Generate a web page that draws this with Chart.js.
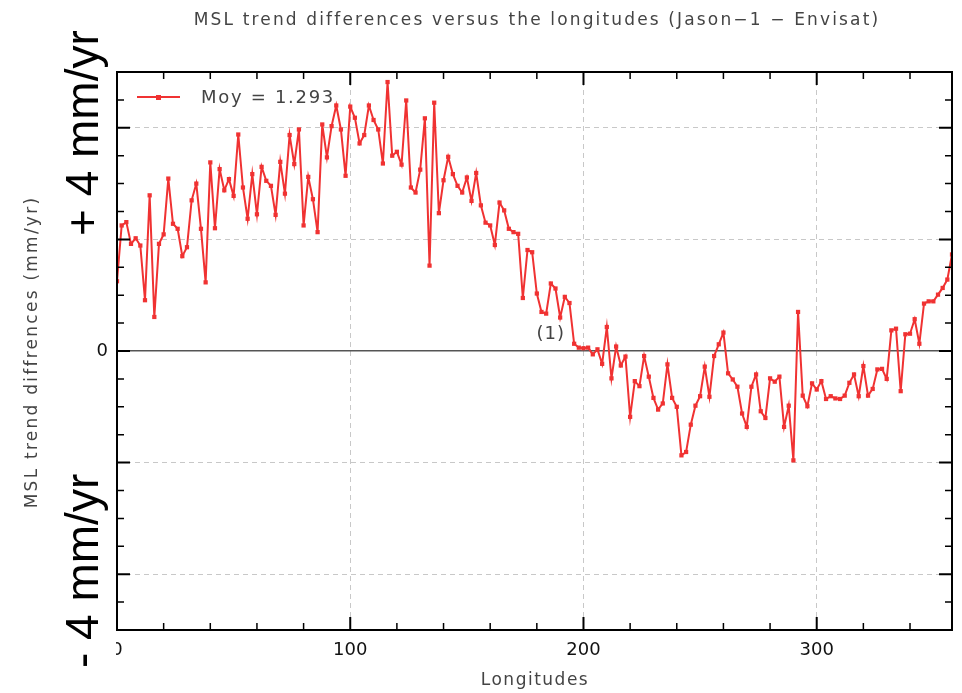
<!DOCTYPE html>
<html>
<head>
<meta charset="utf-8">
<script src="https://cdn.jsdelivr.net/npm/chart.js@4.4.1/dist/chart.umd.min.js"></script>
<style>
html,body{margin:0;padding:0;background:#fff;}
#wrap{width:962px;height:693px;}
</style>
</head>
<body>
<div id="wrap"><canvas id="myChart" width="962" height="693"></canvas></div>
<script>
// MSL trend differences Jason-1 - Envisat (mm/yr), every 2 degrees of longitude from 0 to 358
var lonStep = 2;
var mslDiff = [
	1.25, 2.25, 2.31, 1.92, 2.02, 1.89, 0.91, 2.79, 0.61, 1.92,
	2.09, 3.09, 2.28, 2.19, 1.70, 1.86, 2.70, 3.00, 2.19, 1.23,
	3.38, 2.20, 3.26, 2.88, 3.08, 2.78, 3.88, 2.93, 2.37, 3.17,
	2.45, 3.30, 3.05, 2.96, 2.44, 3.39, 2.82, 3.87, 3.35, 3.97,
	2.25, 3.12, 2.72, 2.13, 4.06, 3.47, 4.03, 4.40, 3.97, 3.14,
	4.38, 4.18, 3.72, 3.87, 4.40, 4.14, 3.97, 3.36, 4.82, 3.50,
	3.57, 3.34, 4.49, 2.93, 2.84, 3.25, 4.17, 1.53, 4.45, 2.47,
	3.06, 3.48, 3.17, 2.96, 2.84, 3.11, 2.69, 3.19, 2.61, 2.30,
	2.25, 1.90, 2.66, 2.52, 2.19, 2.13, 2.10, 0.95, 1.81, 1.77,
	1.03, 0.70, 0.67, 1.21, 1.12, 0.60, 0.97, 0.86, 0.13, 0.06,
	0.05, 0.06, -0.06, 0.03, -0.23, 0.43, -0.49, 0.08, -0.26, -0.10,
	-1.18, -0.54, -0.63, -0.09, -0.46, -0.84, -1.05, -0.94, -0.24, -0.84,
	-1.00, -1.87, -1.81, -1.32, -0.98, -0.81, -0.28, -0.82, -0.09, 0.12,
	0.33, -0.40, -0.51, -0.64, -1.12, -1.36, -0.64, -0.42, -1.08, -1.20,
	-0.49, -0.55, -0.46, -1.36, -0.98, -1.96, 0.70, -0.80, -0.99, -0.58,
	-0.69, -0.54, -0.86, -0.81, -0.85, -0.86, -0.80, -0.57, -0.42, -0.81,
	-0.27, -0.80, -0.68, -0.33, -0.32, -0.50, 0.37, 0.40, -0.72, 0.30,
	0.31, 0.57, 0.13, 0.85, 0.89, 0.89, 1.01, 1.13, 1.28, 1.73
];
var longitudes = [];
for (var i = 0; i < mslDiff.length; i++) {
	longitudes.push(i * lonStep);
}

var xMajorTicks = [100, 200, 300];
var yMajorTicks = [-4, -2, 2, 4];
var meanLabel = "Moy = 1.293";
var titleText = "MSL trend differences versus the longitudes (Jason\u22121 \u2212 Envisat)";
var yTitle = "MSL trend diffrences (mm/yr)";
var xTitle = "Longitudes";
var bigTop = "+ 4 mm/yr";
var bigBottom = "- 4 mm/yr";
var noteText = "(1)";
var noteLon = 186, noteVal = 0.3;

var red = "rgb(240,50,50)";
var txtFont = "'DejaVu Sans', sans-serif";

var points = [];
for (var i = 0; i < mslDiff.length; i++) {
	points.push({x: longitudes[i], y: mslDiff[i]});
}

var decor = {
	id: "decor",
	afterDraw: function(chart) {
		var ctx = chart.ctx;
		var area = chart.chartArea;
		var xs = chart.scales.x, ys = chart.scales.y;
		ctx.save();

		// white box hiding the tick labels under the big overlay text
		ctx.fillStyle = "#fff";
		ctx.fillRect(55, 458, 61, 235);

		// big rotated labels
		ctx.fillStyle = "#000";
		ctx.font = "46px 'Liberation Sans', Arial, sans-serif";
		ctx.textAlign = "left";
		ctx.textBaseline = "alphabetic";
		ctx.save();
		ctx.translate(98, 236);
		ctx.rotate(-Math.PI / 2);
		ctx.fillText(bigTop, 0, 0);
		ctx.restore();
		ctx.save();
		ctx.translate(98, 668);
		ctx.rotate(-Math.PI / 2);
		ctx.fillText(bigBottom, 0, 0);
		ctx.restore();

		// frame
		ctx.strokeStyle = "#000";
		ctx.lineWidth = 2;
		ctx.strokeRect(area.left, area.top, area.right - area.left, area.bottom - area.top);

		// inward ticks
		var v, p, len;
		for (v = 20; v < xs.max; v += 20) {
			p = xs.getPixelForValue(v);
			len = (v % 100 === 0) ? 13 : 7;
			ctx.lineWidth = (v % 100 === 0) ? 2 : 1.5;
			ctx.beginPath();
			ctx.moveTo(p, area.bottom); ctx.lineTo(p, area.bottom - len);
			ctx.moveTo(p, area.top); ctx.lineTo(p, area.top + len);
			ctx.stroke();
		}
		for (v = -4.5; v <= 4.5; v += 0.5) {
			p = ys.getPixelForValue(v);
			len = (v % 2 === 0) ? 13 : 7;
			ctx.lineWidth = (v % 2 === 0) ? 2 : 1.5;
			ctx.beginPath();
			ctx.moveTo(area.left, p); ctx.lineTo(area.left + len, p);
			ctx.moveTo(area.right, p); ctx.lineTo(area.right - len, p);
			ctx.stroke();
		}

		// legend
		ctx.strokeStyle = red;
		ctx.lineWidth = 2;
		ctx.beginPath();
		ctx.moveTo(137, 97); ctx.lineTo(180, 97);
		ctx.stroke();
		ctx.fillStyle = red;
		ctx.fillRect(156, 95, 5, 5);
		ctx.fillStyle = "#444";
		ctx.font = "18px " + txtFont;
		ctx.letterSpacing = "1.7px";
		ctx.textBaseline = "middle";
		ctx.fillText(meanLabel, 201, 98);

		// note (1)
		ctx.textAlign = "center";
		ctx.letterSpacing = "1px";
		ctx.fillText(noteText, xs.getPixelForValue(noteLon), ys.getPixelForValue(noteVal));

		// title
		ctx.font = "17px " + txtFont;
		ctx.letterSpacing = "2.15px";
		ctx.fillText(titleText, 537, 21);

		// x title
		ctx.letterSpacing = "1.5px";
		ctx.fillText(xTitle, 535, 681);

		// y title
		ctx.save();
		ctx.letterSpacing = "2.25px";
		ctx.translate(33, 352);
		ctx.rotate(-Math.PI / 2);
		ctx.fillText(yTitle, 0, 0);
		ctx.restore();

		ctx.restore();
	}
};

var ctx = document.getElementById("myChart").getContext("2d");
var myChart = new Chart(ctx, {
	type: "line",
	data: {
		datasets: [{
			label: meanLabel,
			data: points,
			borderColor: red,
			backgroundColor: red,
			borderWidth: 2,
			pointStyle: "rect",
			pointRadius: 3,
			pointBorderWidth: 0,
			tension: 0
		}]
	},
	options: {
		responsive: false,
		animation: false,
		layout: {padding: {top: 72, right: 7, left: 0, bottom: 0}},
		plugins: {
			legend: {display: false},
			title: {display: false},
			tooltip: {enabled: false}
		},
		scales: {
			x: {
				type: "linear",
				min: 0,
				max: 358,
				afterFit: function(scale) { scale.height = 63; },
				ticks: {
					stepSize: 100,
					autoSkip: false,
					padding: 10,
					color: "#111",
					font: {family: txtFont, size: 18},
					callback: function(v) { return (v % 100 === 0) ? String(v) : ""; }
				},
				border: {display: false, dash: [5, 4]},
				grid: {
					drawTicks: false,
					lineWidth: 1,
					color: function(c) {
						return (c.tick && xMajorTicks.indexOf(c.tick.value) >= 0) ? "#c8c8c8" : "rgba(0,0,0,0)";
					}
				}
			},
			y: {
				min: -5,
				max: 5,
				afterFit: function(scale) { scale.width = 117; },
				ticks: {
					stepSize: 1,
					autoSkip: false,
					padding: 9,
					color: "#111",
					font: {family: txtFont, size: 18},
					callback: function(v) { return v === 0 ? "0" : ""; }
				},
				border: {
					display: false,
					dash: function(c) { return (c.tick && c.tick.value === 0) ? [] : [5, 4]; }
				},
				grid: {
					drawTicks: false,
					lineWidth: function(c) { return (c.tick && c.tick.value === 0) ? 1.5 : 1; },
					color: function(c) {
						if (!c.tick) return "rgba(0,0,0,0)";
						if (c.tick.value === 0) return "#555";
						return yMajorTicks.indexOf(c.tick.value) >= 0 ? "#c8c8c8" : "rgba(0,0,0,0)";
					}
				}
			}
		}
	},
	plugins: [decor]
});
</script>
</body>
</html>
